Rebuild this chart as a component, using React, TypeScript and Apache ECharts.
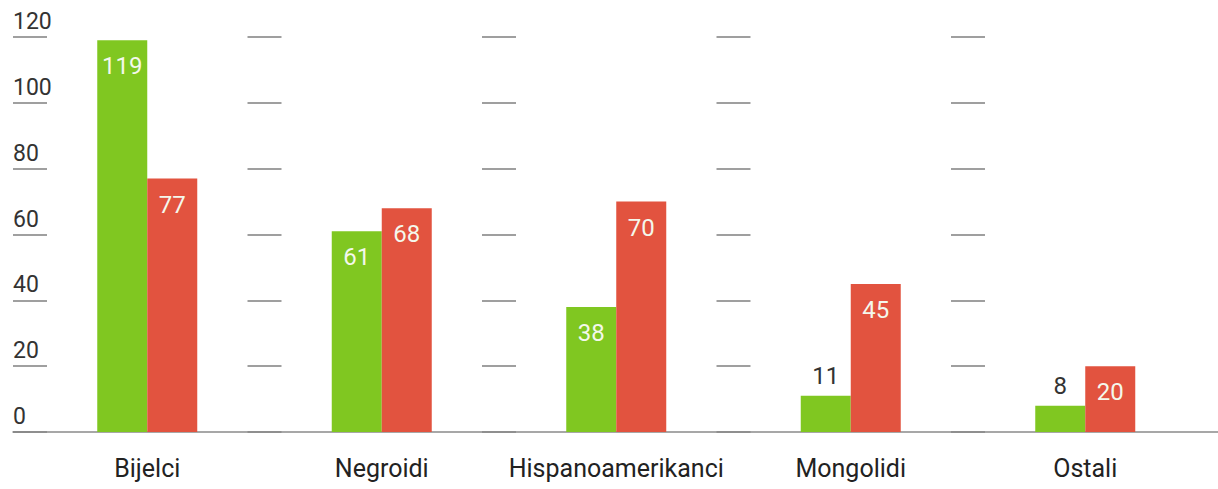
import React, { useEffect, useRef } from "react";
import * as echarts from "echarts";

const categories = ["Bijelci", "Negroidi", "Hispanoamerikanci", "Mongolidi", "Ostali"];
const greenValues = [119, 61, 38, 11, 8];
const redValues = [77, 68, 70, 45, 20];
const yTicks = [0, 20, 40, 60, 80, 100, 120];

const GREEN = "#80c721";
const RED = "#e2533f";
const FONT = "Roboto, 'Liberation Sans', Arial, sans-serif";

function barData(values: number[]) {
  return values.map((v) => ({
    value: v,
    label:
      v < 15
        ? { position: "top", distance: 8, color: "#333333" }
        : { position: "insideTop", distance: 14, color: "#f4f8ec" },
  }));
}

export default function App() {
  const ref = useRef<HTMLDivElement>(null);
  useEffect(() => {
    if (!ref.current) return;
    const chart = echarts.init(ref.current, null, { renderer: "svg" });
    const band = 234.5;
    const dash = 34;
    const gap = band - dash;
    chart.setOption({
      animation: false,
      textStyle: { fontFamily: FONT },
      grid: [
        { left: 30, right: 1218 - 30 - band * 5, top: 37, bottom: 57 },
        { left: 13, right: 0, top: 37, bottom: 57 },
      ],
      xAxis: [
        {
          type: "category",
          gridIndex: 0,
          data: categories,
          axisLine: { show: false },
          axisTick: { show: false },
          axisLabel: {
            interval: 0,
            fontFamily: FONT,
            fontSize: 25,
            color: "#222222",
            margin: 24,
          },
        },
        {
          type: "value",
          gridIndex: 1,
          min: 0,
          max: 1,
          axisLine: { show: true, onZero: false, lineStyle: { color: "#8a8a8a", width: 1.5 } },
          axisTick: { show: false },
          axisLabel: { show: false },
          splitLine: { show: false },
        },
      ],
      yAxis: [
        {
          type: "value",
          gridIndex: 0,
          min: 0,
          max: 120,
          interval: 20,
          axisLine: { show: false },
          axisTick: { show: true, length: 17, lineStyle: { color: "#808080", width: 1.5 } },
          axisLabel: {
            fontFamily: FONT,
            fontSize: 23,
            color: "#333333",
            align: "left",
            verticalAlign: "bottom",
            margin: 17,
            padding: [0, 0, 4, 0],
            formatter: (v: number) => (yTicks.includes(v) ? String(v) : ""),
          },
          splitLine: {
            show: true,
            lineStyle: {
              color: "#808080",
              width: 1.5,
              type: [dash, gap, dash, gap, dash, gap, dash, gap, dash, 2000],
              dashOffset: dash / 2,
            },
          },
        },
        {
          type: "value",
          gridIndex: 1,
          show: false,
          min: 0,
          max: 1,
        },
      ],
      series: [
        {
          name: "Serija 1",
          type: "bar",
          xAxisIndex: 0,
          yAxisIndex: 0,
          data: barData(greenValues),
          barWidth: 50,
          barGap: "0%",
          itemStyle: { color: GREEN },
          label: { show: true, fontFamily: FONT, fontSize: 24 },
        },
        {
          name: "Serija 2",
          type: "bar",
          xAxisIndex: 0,
          yAxisIndex: 0,
          data: barData(redValues),
          barWidth: 50,
          barGap: "0%",
          itemStyle: { color: RED },
          label: { show: true, fontFamily: FONT, fontSize: 24 },
        },
      ],
    });
    return () => chart.dispose();
  }, []);
  return (
    <div
      ref={ref}
      style={{ position: "absolute", left: 0, top: 0, width: 1218, height: 489, background: "#ffffff" }}
    />
  );
}
